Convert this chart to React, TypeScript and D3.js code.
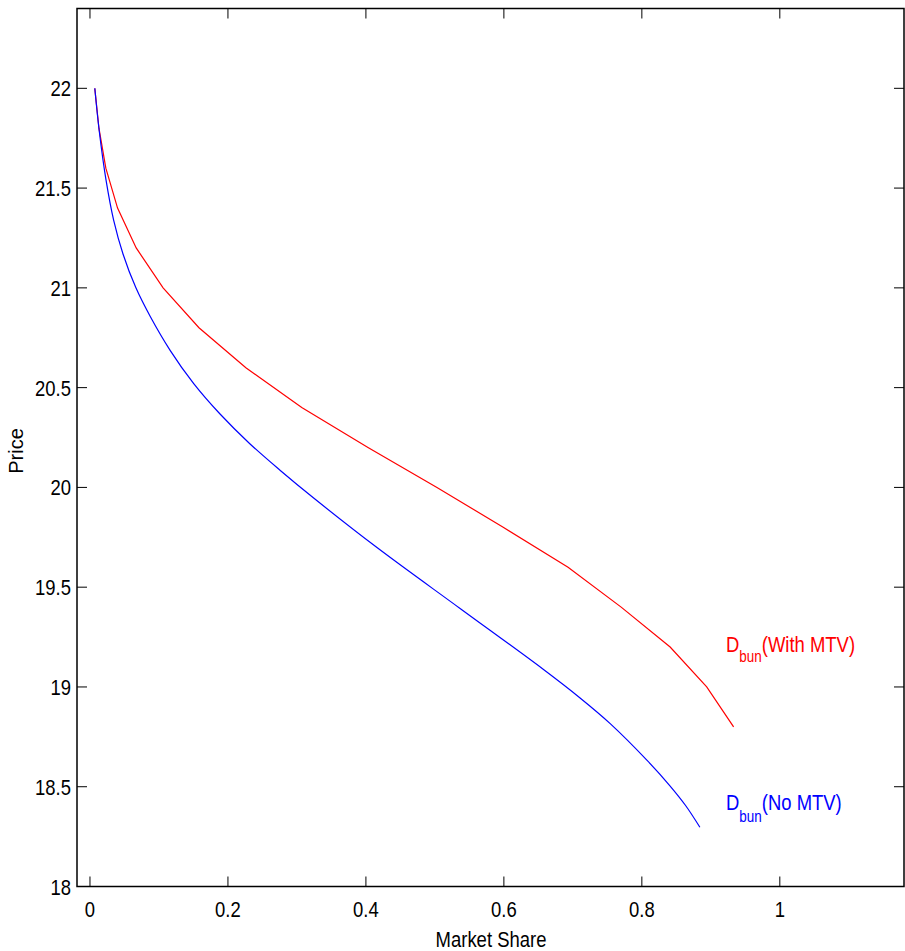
import React from "react";
import * as d3 from "d3";

const redShare = [0.007, 0.013, 0.023, 0.040, 0.067, 0.106, 0.158, 0.226, 0.307, 0.403, 0.503, 0.599, 0.693, 0.770, 0.841, 0.894, 0.933];
const redPrice = [22.0, 21.8, 21.6, 21.4, 21.2, 21.0, 20.8, 20.6, 20.4, 20.2, 20.0, 19.8, 19.6, 19.4, 19.2, 19.0, 18.8];

const blueShare = [0.007, 0.0133, 0.0233, 0.0343, 0.0479, 0.0666, 0.087, 0.1162, 0.1504, 0.1882, 0.2317, 0.2759, 0.3256, 0.417, 0.537, 0.656, 0.710, 0.7545, 0.8076, 0.8404, 0.8634, 0.8841];
const bluePrice = [22.0, 21.79, 21.54, 21.34, 21.17, 21.0, 20.859, 20.687, 20.52, 20.369, 20.219, 20.085, 19.943, 19.696, 19.392, 19.091, 18.946, 18.815, 18.632, 18.506, 18.406, 18.297];

const xTicks = [0, 0.2, 0.4, 0.6, 0.8, 1];
const yTicks = [18, 18.5, 19, 19.5, 20, 20.5, 21, 21.5, 22];

const xLabel = "Market Share";
const yLabel = "Price";

const font = "'Liberation Sans', Arial, Helvetica, sans-serif";
const SX = 0.84;

function NText(props: { x: number; y: number; anchor?: string; size: number; fill: string; children: React.ReactNode }) {
  return (
    <text
      transform={`translate(${props.x},${props.y}) scale(${SX},1)`}
      textAnchor={props.anchor || "start"}
      fontFamily={font}
      fontSize={props.size}
      fill={props.fill}
    >
      {props.children}
    </text>
  );
}

export default function App() {
  const left = 77, right = 904, top = 8.5, bottom = 886.5;
  const x = d3.scaleLinear().domain([-0.0188, 1.18]).range([left, right]);
  const y = d3.scaleLinear().domain([18, 22.4]).range([bottom, top]);
  const red = redShare.map((s, i) => [s, redPrice[i]] as [number, number]);
  const blue = blueShare.map((s, i) => [s, bluePrice[i]] as [number, number]);
  const lineLin = d3.line<[number, number]>().x(d => x(d[0])).y(d => y(d[1]));
  const lineSmooth = d3.line<[number, number]>().x(d => x(d[0])).y(d => y(d[1])).curve(d3.curveCatmullRom);
  const tl = 10;
  const fmt = (v: number) => String(v);
  return (
    <svg width={905} height={951} style={{ position: "absolute", left: 0, top: 0, background: "#fff" }}>
      <rect x={0} y={0} width={905} height={951} fill="#fff" />
      {xTicks.map(t => (
        <g key={"x" + t}>
          <line x1={x(t)} x2={x(t)} y1={bottom} y2={bottom - tl} stroke="#000" strokeWidth={1} />
          <line x1={x(t)} x2={x(t)} y1={top} y2={top + tl} stroke="#000" strokeWidth={1} />
          <NText x={x(t)} y={917} anchor="middle" size={22} fill="#000">{fmt(t)}</NText>
        </g>
      ))}
      {yTicks.map(t => (
        <g key={"y" + t}>
          <line x1={left} x2={left + tl} y1={y(t)} y2={y(t)} stroke="#000" strokeWidth={1} />
          <line x1={right} x2={right - tl} y1={y(t)} y2={y(t)} stroke="#000" strokeWidth={1} />
          <NText x={71} y={y(t) + 8} anchor="end" size={22} fill="#000">{fmt(t)}</NText>
        </g>
      ))}
      <path d={lineLin(red) || ""} fill="none" stroke="#ff0000" strokeWidth={1.2} />
      <path d={lineSmooth(blue) || ""} fill="none" stroke="#0000ff" strokeWidth={1.2} />
      <rect x={left} y={top} width={right - left} height={bottom - top} fill="none" stroke="#000" strokeWidth={1.5} />
      <NText x={726} y={652} size={22} fill="#ff0000">
        D<tspan fontSize={16} dy={10}>bun</tspan><tspan dy={-10}>(With MTV)</tspan>
      </NText>
      <NText x={726} y={810} size={22} fill="#0000ff">
        D<tspan fontSize={16} dy={12}>bun</tspan><tspan dy={-12}>(No MTV)</tspan>
      </NText>
      <NText x={491} y={947} anchor="middle" size={22} fill="#000">{xLabel}</NText>
      <text transform="translate(23,451) rotate(-90)" textAnchor="middle" fontFamily={font} fontSize={20} fill="#000">{yLabel}</text>
    </svg>
  );
}
